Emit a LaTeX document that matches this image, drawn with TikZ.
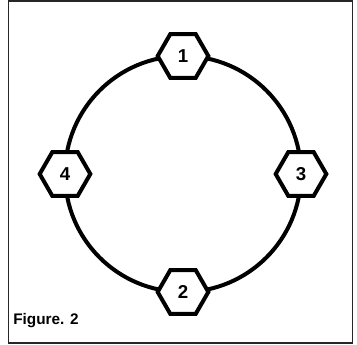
\documentclass[tikz,border=0pt]{standalone}
\usepackage{fontspec}
\setmainfont{Liberation Sans}
\usepackage{tikz}
\usetikzlibrary{positioning,shapes.geometric}

\begin{document}
\begin{tikzpicture}[
    x=0.75pt, y=-0.75pt,
    hexnode/.style={regular polygon, regular polygon sides=6, draw, line width=3pt,
                    fill=white, minimum size=38pt, inner sep=0pt, font=\fontsize{14}{16}\selectfont\bfseries},
    ring/.style={line width=3pt},
    frame/.style={line width=1.4pt, draw=black!85},
  ]
  \useasboundingbox (0,0) rectangle (357,345);

  % Outer frame
  \draw[frame] (8.5,1) rectangle (352.5,343);

  % Ring
  \coordinate (c) at (183,174);
  \draw[ring] (c) circle[radius=118];

  % Hexagons on the ring
  \node[hexnode] (h1) at (183,56)  {1};
  \node[hexnode] (h2) at (183,292) {2};
  \node[hexnode] (h3) at (301,174) {3};
  \node[hexnode] (h4) at (65,174)  {4};

  % Caption
  \node[anchor=base west, inner sep=0pt, font=\fontsize{11.5}{13}\selectfont\bfseries] (cap) at (13,325) {Figure. 2};
\end{tikzpicture}
\end{document}
